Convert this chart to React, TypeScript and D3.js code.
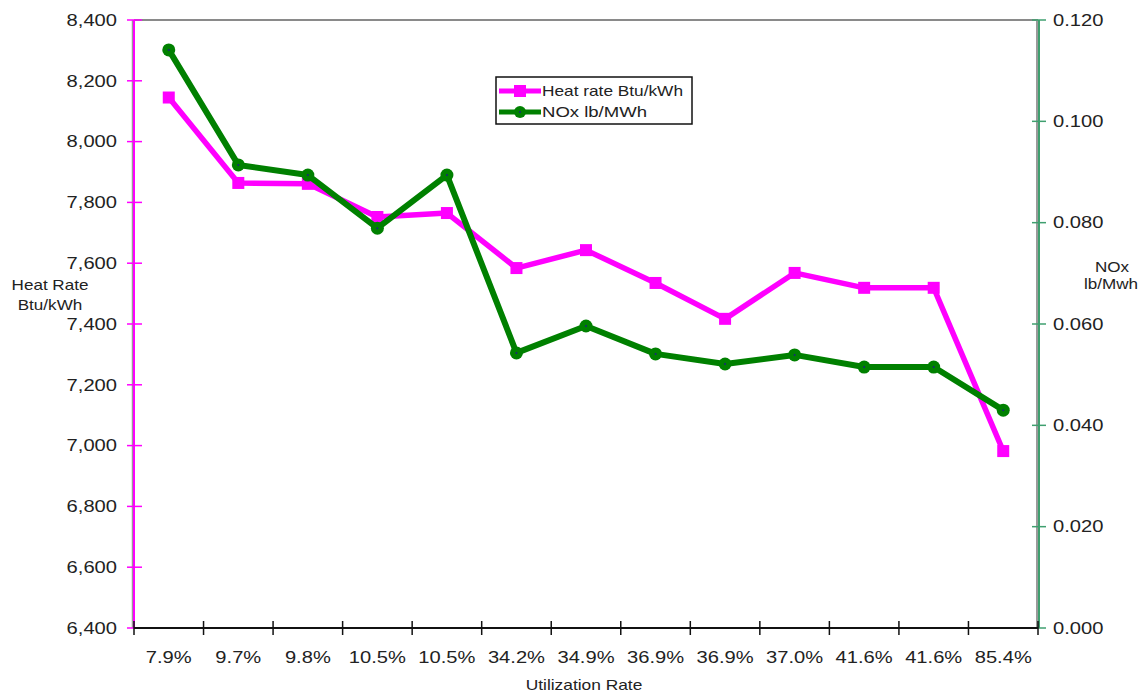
import React from "react";
import * as d3 from "d3";

const categories = ["7.9%", "9.7%", "9.8%", "10.5%", "10.5%", "34.2%", "34.9%", "36.9%", "36.9%", "37.0%", "41.6%", "41.6%", "85.4%"];
const heatRate = [8145, 7864, 7861, 7752, 7765, 7584, 7643, 7535, 7417, 7568, 7519, 7519, 6982];
const nox = [0.1141, 0.0914, 0.0894, 0.0789, 0.0894, 0.0543, 0.0596, 0.0541, 0.0521, 0.0539, 0.0515, 0.0515, 0.043];
const leftTicks = [6400, 6600, 6800, 7000, 7200, 7400, 7600, 7800, 8000, 8200, 8400];
const rightTicks = [0, 0.02, 0.04, 0.06, 0.08, 0.1, 0.12];

const W = 1141, H = 692;
const L = 134, R = 1038, T = 20, B = 628;
const FONT = "'Liberation Sans', Arial, sans-serif";
const SX = 1.26;

function SText(props: { x: number; y: number; anchor?: string; size: number; children: React.ReactNode; dy?: string; sx?: number }) {
  const sx = props.sx ?? SX;
  return (
    <text
      transform={`translate(${props.x},${props.y}) scale(${sx},1)`}
      dy={props.dy}
      textAnchor={props.anchor || "start"}
      fontSize={props.size}
      fill="#222"
    >
      {props.children}
    </text>
  );
}

export default function App() {
  const x = d3.scaleBand().domain(categories.map((_, i) => String(i))).range([L, R]).padding(0);
  const yL = d3.scaleLinear().domain([6400, 8400]).range([B, T]);
  const yR = d3.scaleLinear().domain([0, 0.12]).range([B, T]);
  const cx = (i: number) => (x(String(i)) as number) + x.bandwidth() / 2;
  const hrLine = d3.line<number>().x((_, i) => cx(i)).y((d) => yL(d))(heatRate) || "";
  const noxLine = d3.line<number>().x((_, i) => cx(i)).y((d) => yR(d))(nox) || "";
  const fmtL = d3.format(",");
  const fmtR = d3.format(".3f");
  const boundaries = d3.range(categories.length + 1).map((i) => L + i * x.bandwidth());

  return (
    <svg width={W} height={H} style={{ position: "absolute", left: 0, top: 0, background: "#fff" }} fontFamily={FONT}>
      {/* frame */}
      <line x1={L} x2={R} y1={T} y2={T} stroke="#8a8a8a" strokeWidth={2} />
      <line x1={L - 1.5} x2={L - 1.5} y1={T} y2={B} stroke="#9a9a9a" strokeWidth={1.5} />
      <line x1={R - 1} x2={R - 1} y1={T} y2={B} stroke="#9a9a9a" strokeWidth={2} />
      {/* left axis */}
      <line x1={L} x2={L} y1={T} y2={B} stroke="#ff00ff" strokeWidth={2} />
      {leftTicks.map((t) => (
        <g key={t}>
          <line x1={L - 7} x2={L + 8} y1={yL(t)} y2={yL(t)} stroke="#ff00ff" strokeWidth={1.5} />
          <SText x={117} y={yL(t)} dy="0.36em" anchor="end" size={16}>{fmtL(t)}</SText>
        </g>
      ))}
      {/* right axis */}
      <line x1={R + 1} x2={R + 1} y1={T} y2={B} stroke="#3f9f6f" strokeWidth={2} />
      {rightTicks.map((t) => (
        <g key={t}>
          <line x1={R - 6} x2={R + 8} y1={yR(t)} y2={yR(t)} stroke="#3f9f6f" strokeWidth={1.5} />
          <SText x={1053} y={yR(t)} dy="0.36em" anchor="start" size={16}>{fmtR(t)}</SText>
        </g>
      ))}
      {/* bottom axis */}
      <line x1={L} x2={R} y1={B} y2={B} stroke="#111" strokeWidth={2} />
      {boundaries.map((bx, i) => (
        <line key={i} x1={bx} x2={bx} y1={B - 7} y2={B + 7} stroke="#111" strokeWidth={1.5} />
      ))}
      {categories.map((c, i) => (
        <SText key={i} x={cx(i)} y={663} anchor="middle" size={16}>{c}</SText>
      ))}
      <SText x={584} y={690} anchor="middle" size={14} sx={1.24}>Utilization Rate</SText>
      <SText x={50} y={290} anchor="middle" size={14} sx={1.22}>Heat Rate</SText>
      <SText x={50} y={310} anchor="middle" size={14} sx={1.22}>Btu/kWh</SText>
      <SText x={1112} y={272} anchor="middle" size={14} sx={1.22}>NOx</SText>
      <SText x={1111} y={289} anchor="middle" size={14} sx={1.22}>lb/Mwh</SText>
      {/* series */}
      <path d={hrLine} fill="none" stroke="#ff00ff" strokeWidth={5.5} strokeLinejoin="round" />
      {heatRate.map((d, i) => (
        <rect key={i} x={cx(i) - 6} y={yL(d) - 6} width={12} height={12} fill="#ff00ff" />
      ))}
      <path d={noxLine} fill="none" stroke="#008000" strokeWidth={6} strokeLinejoin="round" />
      {nox.map((d, i) => (
        <g key={i}>
          <circle cx={cx(i)} cy={yR(d)} r={6.5} fill="#008000" />
          <circle cx={cx(i)} cy={yR(d)} r={1} fill="#1a237e" />
        </g>
      ))}
      {/* legend */}
      <rect x={496} y={77} width={196} height={47} fill="#fff" stroke="#111" strokeWidth={1.5} />
      <line x1={499} x2={541} y1={91} y2={91} stroke="#ff00ff" strokeWidth={5} />
      <rect x={514} y={85} width={12} height={12} fill="#ff00ff" />
      <text x={542} y={91} dy="0.36em" fontSize={15} fill="#222" textLength={141} lengthAdjust="spacingAndGlyphs">Heat rate Btu/kWh</text>
      <line x1={499} x2={541} y1={112} y2={112} stroke="#008000" strokeWidth={5} />
      <circle cx={520} cy={112} r={6} fill="#008000" />
      <circle cx={520} cy={112} r={1} fill="#1a237e" />
      <text x={542} y={112} dy="0.36em" fontSize={15} fill="#222" textLength={105} lengthAdjust="spacingAndGlyphs">NOx lb/MWh</text>
    </svg>
  );
}
